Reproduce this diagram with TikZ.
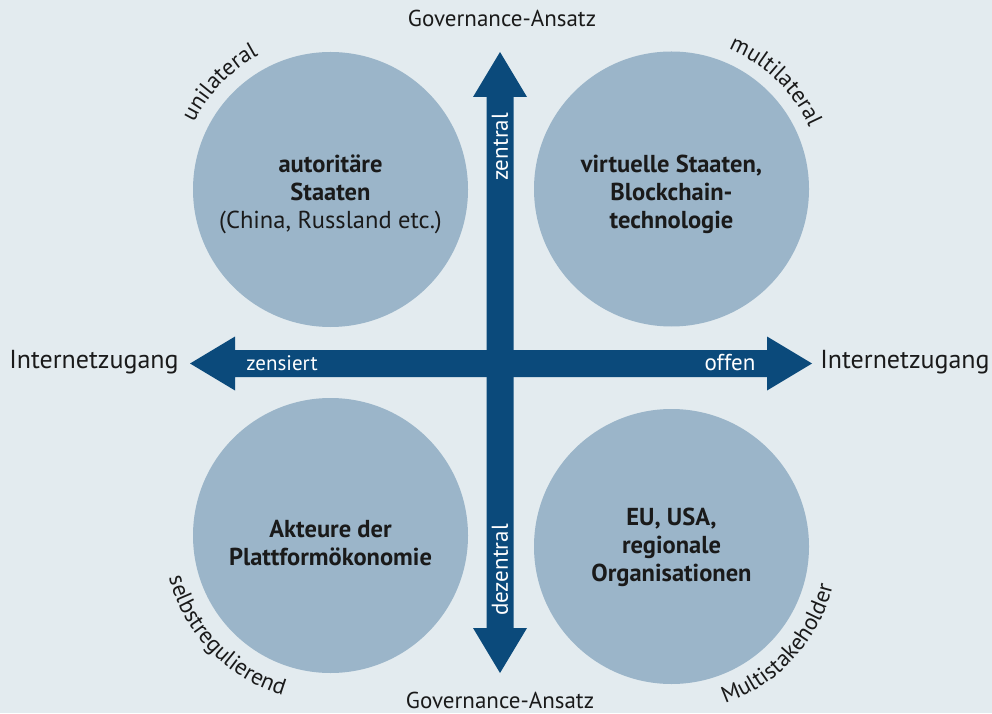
\documentclass[tikz,border=0pt]{standalone}
\usepackage{fontspec}
\setmainfont{PT Sans}
\usetikzlibrary{decorations.text}
\definecolor{bgcol}{HTML}{E3EBEF}
\definecolor{circcol}{HTML}{9BB5C9}
\definecolor{arrcol}{HTML}{0B4A7B}
\definecolor{txtcol}{HTML}{1A1A1A}
\newcommand\mycurvefont{\fontsize{23}{27}\selectfont}
\begin{document}
\begin{tikzpicture}[x=1pt,y=1pt,
  quad/.style={circle, fill=circcol, minimum size=275pt, inner sep=0pt},
  quadtext/.style={align=center, inner sep=0pt,
    font=\bfseries\fontsize{24.5}{28}\selectfont, text=txtcol},
  axislabel/.style={font=\fontsize{26}{30}\selectfont, text=txtcol, inner sep=0pt},
  govlabel/.style={font=\fontsize{23}{27}\selectfont, text=txtcol, inner sep=0pt},
  arrlabel/.style={font=\fontsize{23}{27}\selectfont, text=white, inner sep=0pt},
  curvelabel/.style={decorate, decoration={text along path, text align=center,
    text color=txtcol, text={|\mycurvefont|#1}}}
]
\fill[bgcol] (0,0) rectangle (992,713);
\useasboundingbox (0,0) rectangle (992,713);

% circles
\node[quad] (tl) at (330.5,523.5) {};
\node[quad] (tr) at (671.5,524) {};
\node[quad] (bl) at (330.5,177.5) {};
\node[quad] (br) at (671.5,166.5) {};
\node[quadtext] (tlt) at (330.5,518.5) {autoritäre\\Staaten\\\mdseries(China, Russland etc.)};
\node[quadtext] (trt) at (671.5,518.5) {virtuelle Staaten,\\Blockchain-\\technologie};
\node[quadtext] (blt) at (330.5,169.5) {Akteure der\\Plattformökonomie};
\node[quadtext] (brt) at (671.5,165.5) {EU, USA,\\regionale\\Organisationen};

% vertical arrow
\coordinate (vtop) at (500,661);
\coordinate (vbot) at (500,40);
\fill[arrcol] (vbot) -- ++(27,45) -- ++(-13.5,0) |- ([xshift=13.5pt,yshift=-45pt]vtop)
  -- ++(13.5,0) -- (vtop) -- ++(-27,-45) -- ++(13.5,0) |- ([xshift=-13.5pt,yshift=45pt]vbot)
  -- ++(-13.5,0) -- cycle;
% horizontal arrow
\coordinate (hleft) at (190,349.5);
\coordinate (hright) at (812,349.5);
\fill[arrcol] (hleft) -- ++(45,27) -- ++(0,-13.5) -| ([xshift=-45pt,yshift=13.5pt]hright)
  -- ++(0,13.5) -- (hright) -- ++(-45,-27) -- ++(0,13.5) -| ([xshift=45pt,yshift=-13.5pt]hleft)
  -- ++(0,-13.5) -- cycle;

% arrow labels
\node[arrlabel, rotate=90] (zen) at (500,566) {zentral};
\node[arrlabel, rotate=90] (dez) at (500,143) {dezentral};
\node[arrlabel, font=\fontsize{21}{25}\selectfont] (zns) at (282,350) {zensiert};
\node[arrlabel] (off) at (730,350) {offen};

% axis labels
\node[govlabel] (gtop) at (502,695) {Governance-Ansatz};
\node[govlabel] (gbot) at (500,13) {Governance-Ansatz};
\node[axislabel] (ileft) at (94,351) {Internetzugang};
\node[axislabel] (iright) at (905,351) {Internetzugang};

% curved labels
\path[curvelabel=unilateral] (tl.center) ++(165:152) arc[start angle=165, end angle=107, radius=152];
\path[curvelabel=multilateral] (tr.center) ++(76:151) arc[start angle=76, end angle=16, radius=151];
\path[curvelabel=selbstregulierend] (bl.center) ++(184:167) arc[start angle=184, end angle=264, radius=167];
\path[curvelabel=Multistakeholder] (br.center) ++(278:166) arc[start angle=278, end angle=357, radius=166];
\end{tikzpicture}
\end{document}
